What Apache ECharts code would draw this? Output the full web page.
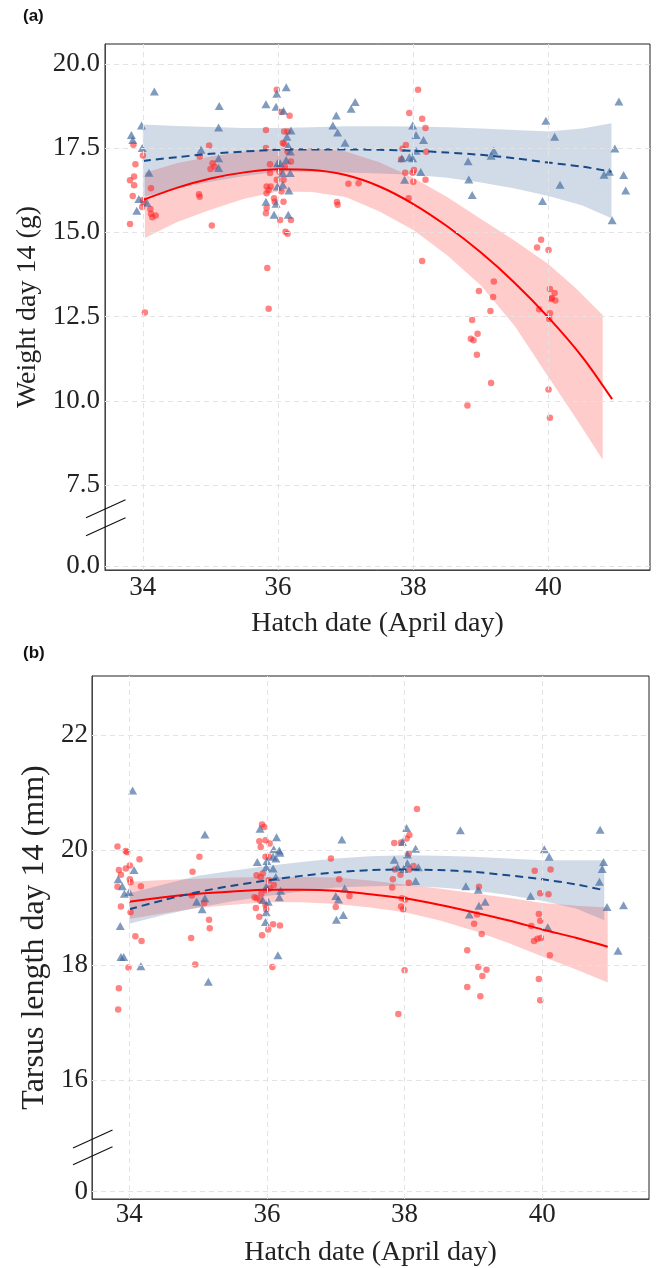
<!DOCTYPE html>
<html><head><meta charset="utf-8">
<script src="https://cdn.jsdelivr.net/npm/echarts@6/dist/echarts.min.js"></script>
<style>html,body{margin:0;padding:0;background:#fff}#c{width:656px;height:1268px}</style>
</head><body><div id="c"></div>
<script>
// ---------- tick labels ----------
const xTicks = [34, 36, 38, 40];
const yTicksA = [0, 7.5, 10, 12.5, 15, 17.5, 20];
const yTicksB = [0, 16, 18, 20, 22];
// where the "0" label sits on the broken axis
const zeroPosA = 5.1;
const zeroPosB = 14.07;

// ---------- panel (a): weight day 14 ----------
const weightBlue = [
[33.83,17.89],[33.85,17.74],[33.98,18.17],[33.99,17.50],[34.09,16.77],[34.17,19.18],[33.94,15.99],[33.91,15.64],[34.06,15.88],
[34.86,17.45],[35.13,18.75],[35.12,18.11],[35.12,17.20],[35.12,16.91],
[35.82,18.80],[35.97,18.73],[35.98,19.11],[35.99,17.05],[36.08,18.61],[36.12,19.31],[35.82,15.91],[35.97,15.85],[35.94,15.52],
[36.16,16.24],[36.15,15.52],[36.13,17.84],[36.19,18.02],[36.15,17.57],[36.18,17.40],[36.07,16.76],[36.18,16.76],[35.99,16.36],
[36.07,16.41],[36.12,17.15],[36.03,17.05],
[36.81,18.17],[36.86,18.47],[36.88,17.96],[36.99,17.66],[37.08,18.67],[37.14,18.87],
[37.99,18.17],[38.04,17.89],[38.15,17.74],[38.04,17.42],[37.83,17.20],[37.94,17.23],[37.99,17.20],[38.11,16.79],[37.87,16.56],
[38.81,17.11],[38.82,16.57],[38.87,16.11],[39.15,17.27],[39.19,17.42],
[39.96,18.31],[40.09,17.84],[40.17,16.41],[39.91,15.93],
[40.82,16.71],[40.90,16.80],[40.94,15.36],[40.98,17.49],[41.04,18.88],[41.11,16.70],[41.14,16.24]
];
const weightRed = [
[33.86,17.60],[34.00,17.28],[33.89,17.02],[33.87,16.66],[33.81,16.55],[33.87,16.40],[33.85,16.08],[33.81,15.25],[34.12,16.31],
[34.00,15.96],[34.01,15.87],[33.99,15.75],[34.11,15.69],[34.12,15.55],[34.14,15.45],[34.19,15.50],[34.03,12.62],
[34.98,17.58],[34.84,17.25],[35.03,17.05],[35.00,16.88],[35.06,16.95],[34.83,16.13],[34.84,16.06],[35.02,15.20],
[35.82,18.04],[35.82,17.50],[35.88,17.02],[35.88,16.76],[35.83,16.36],[35.89,16.36],[35.86,16.26],[35.83,16.16],[35.94,16.01],
[35.95,15.91],[35.82,15.57],[35.83,15.72],[36.03,15.37],[36.19,15.37],[36.11,15.02],[36.14,14.96],[35.98,19.23],[36.05,18.57],
[36.17,18.46],[36.09,17.99],[36.14,17.99],[36.07,17.65],[36.09,17.63],[36.14,17.40],[36.10,16.95],[36.19,17.10],[36.08,16.56],
[36.05,16.21],[36.08,15.91],[35.98,16.56],[36.02,16.80],[35.84,13.94],[35.86,12.73],
[36.87,15.90],[36.88,15.82],[37.04,16.44],[37.19,16.46],
[38.07,19.23],[37.94,18.54],[38.13,18.37],[38.18,18.10],[37.89,17.59],[37.84,17.48],[37.82,17.17],[38.19,17.39],[38.01,16.85],
[37.99,16.77],[37.88,16.77],[38.00,16.50],[38.18,16.56],[37.93,16.01],[38.13,14.15],
[38.97,13.26],[39.19,13.54],[39.18,13.08],[39.14,12.67],[38.87,12.40],[38.95,11.99],[38.85,11.84],[38.89,11.80],[38.94,11.37],
[39.15,10.53],[38.80,9.86],
[39.83,14.55],[39.89,14.78],[40.00,14.48],[40.02,13.32],[40.09,13.20],[40.05,13.05],[40.10,12.98],[40.04,13.02],[39.86,12.72],
[40.02,12.60],[40.01,12.43],[40.00,10.34],[40.02,9.50]
];
const fitXA      = [34, 34.5, 35, 35.5, 36, 36.5, 37, 37.5, 38, 38.5, 39, 39.5, 40, 40.5, 40.94];
const redFitA    = [15.96, 16.32, 16.60, 16.78, 16.87, 16.85, 16.70, 16.36, 15.84, 15.18, 14.40, 13.50, 12.47, 11.30, 10.05];
const bandXRedA  = [34.03, 34.5, 35, 35.5, 36, 36.5, 37, 37.5, 38, 38.5, 39, 39.5, 40, 40.4, 40.8];
const redUpA     = [16.77, 17.05, 17.25, 17.40, 17.50, 17.50, 17.40, 17.08, 16.62, 16.05, 15.40, 14.75, 14.05, 13.35, 12.55];
const redLoA     = [14.83, 15.30, 15.67, 16.00, 16.21, 16.20, 16.05, 15.62, 15.07, 14.32, 13.42, 12.22, 10.70, 9.50, 8.25];
const fitXBlueA  = [34, 34.5, 35, 35.5, 36, 36.5, 37, 37.5, 38, 38.5, 39, 39.5, 40, 40.5, 40.93];
const blueFitA   = [17.12, 17.23, 17.33, 17.40, 17.45, 17.46, 17.46, 17.45, 17.42, 17.37, 17.30, 17.20, 17.07, 16.95, 16.80];
const blueUpA    = [18.20, 18.16, 18.13, 18.10, 18.10, 18.12, 18.15, 18.15, 18.14, 18.12, 18.08, 18.04, 17.99, 18.08, 18.24];
const blueLoA    = [16.05, 16.30, 16.50, 16.67, 16.80, 16.80, 16.78, 16.75, 16.71, 16.62, 16.48, 16.30, 16.08, 15.80, 15.42];

// ---------- panel (b): tarsus length day 14 ----------
const tarsusBlue = [
[34.05,21.03],[33.84,19.49],[33.90,19.37],[33.93,19.24],[34.00,19.27],[34.07,19.65],[33.87,18.68],[33.88,18.14],[33.92,18.14],[34.17,17.98],
[35.10,20.27],[34.98,19.10],[35.06,18.97],[35.10,19.16],[35.15,17.71],
[35.90,20.37],[35.86,19.79],[36.00,19.81],[35.99,19.70],[36.09,19.68],[36.14,20.22],[36.10,20.01],[36.18,19.99],[36.19,19.95],
[36.09,19.88],[36.13,19.85],[36.13,19.53],[35.99,19.36],[36.20,19.29],[36.18,19.18],[35.94,19.13],[36.02,19.10],[35.99,18.92],
[35.98,18.75],[36.16,18.17],
[37.09,20.18],[37.13,19.33],[37.00,19.20],[37.04,19.14],[37.01,18.79],[37.11,18.87],
[37.85,19.83],[37.90,19.70],[37.97,20.14],[38.03,20.38],[38.04,19.92],[38.16,20.02],[38.04,19.77],[37.99,19.67],[38.20,19.70],[38.16,19.46],
[38.81,20.34],[38.89,19.37],[39.07,19.31],[39.17,19.10],[39.08,19.03],[38.94,18.88],
[40.03,20.01],[40.10,19.88],[39.83,19.20],[40.08,18.66],
[40.84,20.35],[40.89,19.79],[40.87,19.67],[40.83,19.45],[40.94,19.01],[41.18,19.04],[41.10,18.25]
];
const tarsusRed = [
[33.83,20.06],[33.85,19.65],[33.88,19.57],[33.83,19.36],[33.95,19.98],[33.97,19.96],[33.95,19.68],[34.01,19.73],[34.15,19.84],
[34.01,19.49],[34.02,19.44],[34.17,19.37],[33.88,19.02],[34.02,18.92],[34.09,18.50],[34.18,18.42],[33.99,17.96],[33.85,17.60],[33.84,17.23],
[34.92,19.62],[35.02,19.88],[34.91,19.21],[35.09,19.08],[35.16,18.79],[35.17,18.64],[34.90,18.47],[34.96,18.01],
[35.93,20.44],[35.96,20.40],[35.89,20.15],[35.98,20.17],[35.91,20.05],[36.04,20.11],[36.03,19.88],[35.98,19.88],[35.85,19.56],
[35.91,19.53],[35.94,19.59],[36.03,19.47],[36.10,19.39],[35.82,19.18],[35.85,19.16],[35.92,19.24],[35.99,19.30],[35.90,19.13],
[35.84,18.99],[35.89,18.84],[35.99,18.97],[36.09,18.71],[36.19,18.69],[36.02,18.62],[35.93,18.52],[35.98,19.04],[36.04,19.33],[36.08,17.97],
[36.93,19.85],[37.05,19.49],[37.00,19.01],[37.20,19.20],
[38.18,20.71],[38.07,20.26],[38.03,20.20],[37.95,20.13],[37.85,20.12],[38.06,19.94],[38.13,19.72],[38.07,19.66],[37.86,19.66],
[37.94,19.57],[37.83,19.49],[38.06,19.43],[37.82,19.35],[37.96,19.16],[38.01,19.14],[37.95,19.02],[37.98,18.97],[38.00,17.91],[37.91,17.15],
[39.08,19.36],[39.05,18.88],[39.01,18.72],[39.12,18.54],[38.91,18.26],[39.07,17.97],[39.19,17.92],[39.13,17.81],[38.91,17.62],[39.10,17.46],
[39.89,19.64],[40.12,19.66],[39.97,19.25],[40.09,19.23],[39.95,18.89],[39.97,18.77],[39.84,18.68],[39.88,18.42],[39.93,18.46],
[39.98,18.47],[40.11,18.17],[39.95,17.76],[39.97,17.39]
];
const fitXRedB   = [34, 34.5, 35, 35.5, 36, 36.5, 37, 37.5, 38, 38.5, 39, 39.5, 40, 40.5, 40.95];
const redFitB    = [19.10, 19.18, 19.24, 19.28, 19.31, 19.31, 19.29, 19.23, 19.16, 19.05, 18.92, 18.78, 18.62, 18.47, 18.32];
const redUpB     = [19.45, 19.48, 19.50, 19.52, 19.53, 19.53, 19.52, 19.47, 19.40, 19.33, 19.25, 19.17, 19.08, 19.03, 19.00];
const redLoB     = [18.80, 18.90, 18.99, 19.05, 19.09, 19.09, 19.06, 19.00, 18.92, 18.78, 18.60, 18.39, 18.15, 17.92, 17.70];
const fitXBlueB  = [34, 34.5, 35, 35.5, 36, 36.5, 37, 37.5, 38, 38.5, 39, 39.5, 40, 40.5, 40.9];
const blueFitB   = [18.97, 19.13, 19.27, 19.38, 19.47, 19.55, 19.61, 19.65, 19.66, 19.65, 19.62, 19.56, 19.49, 19.40, 19.30];
const blueUpB    = [19.25, 19.40, 19.55, 19.64, 19.72, 19.79, 19.85, 19.89, 19.91, 19.90, 19.88, 19.85, 19.82, 19.82, 19.82];
const blueLoB    = [18.72, 18.87, 19.00, 19.11, 19.20, 19.28, 19.35, 19.37, 19.38, 19.35, 19.30, 19.22, 19.12, 18.98, 18.78];

// ---------- styles ----------
const SERIF = 'Liberation Serif';
const RED_PT = 'rgba(255,40,40,0.72)';
const BLUE_PT = 'rgba(62,102,158,0.82)';
const RED_BAND = 'rgba(255,0,0,0.2)';
const BLUE_BAND = 'rgba(70,110,160,0.25)';
const GRID_LINE = {color: '#e3e3e3', type: [5, 4], width: 1};

function zip(xs, ys) { return xs.map((x, i) => [x, ys[i]]); }

function bandSeries(idx, xs, up, lo, color) {
  return {
    type: 'custom', xAxisIndex: idx, yAxisIndex: idx, z: 1, silent: true,
    data: xs.map((x, i) => [x, up[i], lo[i]]),
    encode: {x: 0, y: [1, 2]},
    renderItem: function (params, api) {
      if (params.dataIndex !== 0) return;
      const pts = [];
      for (let i = 0; i < xs.length; i++) pts.push(api.coord([xs[i], up[i]]));
      for (let i = xs.length - 1; i >= 0; i--) pts.push(api.coord([xs[i], lo[i]]));
      return {type: 'polygon', shape: {points: pts}, style: {fill: color}};
    }
  };
}

function gridLines(idx, yTicks, zeroPos) {
  const d = [];
  xTicks.forEach(v => d.push({xAxis: v}));
  yTicks.forEach(v => d.push({yAxis: v === 0 ? zeroPos : v}));
  return {
    type: 'line', xAxisIndex: idx, yAxisIndex: idx, data: [], z: 0, silent: true,
    markLine: {silent: true, symbol: ['none', 'none'], label: {show: false},
      lineStyle: GRID_LINE, animation: false, data: d}
  };
}

function xAxisCfg(idx, min, max, margin) {
  return {
    type: 'value', gridIndex: idx, min: min, max: max,
    name: 'Hatch date (April day)', nameLocation: 'middle', nameGap: 40,
    nameTextStyle: {fontFamily: SERIF, fontSize: 28, color: '#222'},
    axisLine: {show: true, onZero: false, lineStyle: {color: '#444', width: 1}},
    axisTick: {show: false},
    splitLine: {show: false},
    axisLabel: {customValues: xTicks, fontFamily: SERIF, fontSize: 27, color: '#222', margin: margin,
      formatter: v => String(v)}
  };
}

function yAxisCfg(idx, min, max, ticks, zeroPos, name, gap, decimals, margin, nameSize) {
  return {
    type: 'value', gridIndex: idx, min: min, max: max,
    name: name, nameLocation: 'middle', nameGap: gap,
    nameTextStyle: {fontFamily: SERIF, fontSize: nameSize, color: '#222'},
    axisLine: {show: true, onZero: false, lineStyle: {color: '#444', width: 1}},
    axisTick: {show: false},
    splitLine: {show: false},
    axisLabel: {customValues: ticks.map(v => v === 0 ? zeroPos : v), fontFamily: SERIF, fontSize: 27,
      color: '#222', margin: margin,
      formatter: v => (Math.abs(v - zeroPos) < 1e-6 ? (0).toFixed(decimals) : v.toFixed(decimals))}
  };
}

const chart = echarts.init(document.getElementById('c'), null, {renderer: 'canvas'});
chart.setOption({
  animation: false,
  backgroundColor: '#fff',
  grid: [
    {left: 105, top: 44, width: 545, height: 526, show: true, borderColor: '#222', borderWidth: 1, backgroundColor: 'transparent'},
    {left: 92, top: 676, width: 557, height: 523, show: true, borderColor: '#222', borderWidth: 1, backgroundColor: 'transparent'}
  ],
  xAxis: [xAxisCfg(0, 33.44, 41.5, 4), xAxisCfg(1, 33.46, 41.55, 2)],
  yAxis: [
    yAxisCfg(0, 4.98, 20.59, yTicksA, zeroPosA, 'Weight day 14 (g)', 59, 1, 5, 28),
    yAxisCfg(1, 13.94, 23.02, yTicksB, zeroPosB, 'Tarsus length day 14 (mm)', 41, 0, 4, 32)
  ],
  series: [
    gridLines(0, yTicksA, zeroPosA),
    gridLines(1, yTicksB, zeroPosB),
    bandSeries(0, bandXRedA, redUpA, redLoA, RED_BAND),
    bandSeries(0, fitXBlueA, blueUpA, blueLoA, BLUE_BAND),
    bandSeries(1, fitXRedB, redUpB, redLoB, RED_BAND),
    bandSeries(1, fitXBlueB, blueUpB, blueLoB, BLUE_BAND),
    {type: 'scatter', xAxisIndex: 0, yAxisIndex: 0, data: weightRed, symbol: 'circle', symbolSize: 6.5,
      itemStyle: {color: RED_PT}, z: 3},
    {type: 'scatter', xAxisIndex: 0, yAxisIndex: 0, data: weightBlue, symbol: 'triangle', symbolSize: [9, 8],
      itemStyle: {color: BLUE_PT}, z: 3},
    {type: 'scatter', xAxisIndex: 1, yAxisIndex: 1, data: tarsusRed, symbol: 'circle', symbolSize: 6.5,
      itemStyle: {color: RED_PT}, z: 3},
    {type: 'scatter', xAxisIndex: 1, yAxisIndex: 1, data: tarsusBlue, symbol: 'triangle', symbolSize: [9, 8],
      itemStyle: {color: BLUE_PT}, z: 3},
    {type: 'line', xAxisIndex: 0, yAxisIndex: 0, data: zip(fitXA, redFitA), smooth: 0.3, showSymbol: false, z: 4,
      lineStyle: {color: '#ff0000', width: 2}},
    {type: 'line', xAxisIndex: 0, yAxisIndex: 0, data: zip(fitXBlueA, blueFitA), smooth: 0.3, showSymbol: false, z: 4,
      lineStyle: {color: '#174a88', width: 2, type: [8, 5]}},
    {type: 'line', xAxisIndex: 1, yAxisIndex: 1, data: zip(fitXRedB, redFitB), smooth: 0.3, showSymbol: false, z: 4,
      lineStyle: {color: '#ff0000', width: 2}},
    {type: 'line', xAxisIndex: 1, yAxisIndex: 1, data: zip(fitXBlueB, blueFitB), smooth: 0.3, showSymbol: false, z: 4,
      lineStyle: {color: '#174a88', width: 2, type: [8, 5]}}
  ]
});

// axis-break marks and panel tags
function breakMarks(idx, xmin, yVals) {
  const els = [];
  yVals.forEach(v => {
    const p = chart.convertToPixel({xAxisIndex: idx, yAxisIndex: idx}, [xmin, v]);
    els.push({type: 'line', silent: true, z: 100,
      shape: {x1: p[0] - 19, y1: p[1] + 9, x2: p[0] + 20.5, y2: p[1] - 9},
      style: {stroke: '#111', lineWidth: 1.1}});
  });
  return els;
}
const marks = [].concat(
  breakMarks(0, 33.44, [6.80, 6.26]),
  breakMarks(1, 33.46, [14.98, 14.69]),
  [
    {type: 'text', left: 23, top: 8, silent: true,
      style: {text: '(a)', font: 'bold 17px "Liberation Sans", Arial, sans-serif', fill: '#111'}},
    {type: 'text', left: 23, top: 645, silent: true,
      style: {text: '(b)', font: 'bold 17px "Liberation Sans", Arial, sans-serif', fill: '#111'}}
  ]
);
chart.setOption({graphic: marks});
</script></body></html>
